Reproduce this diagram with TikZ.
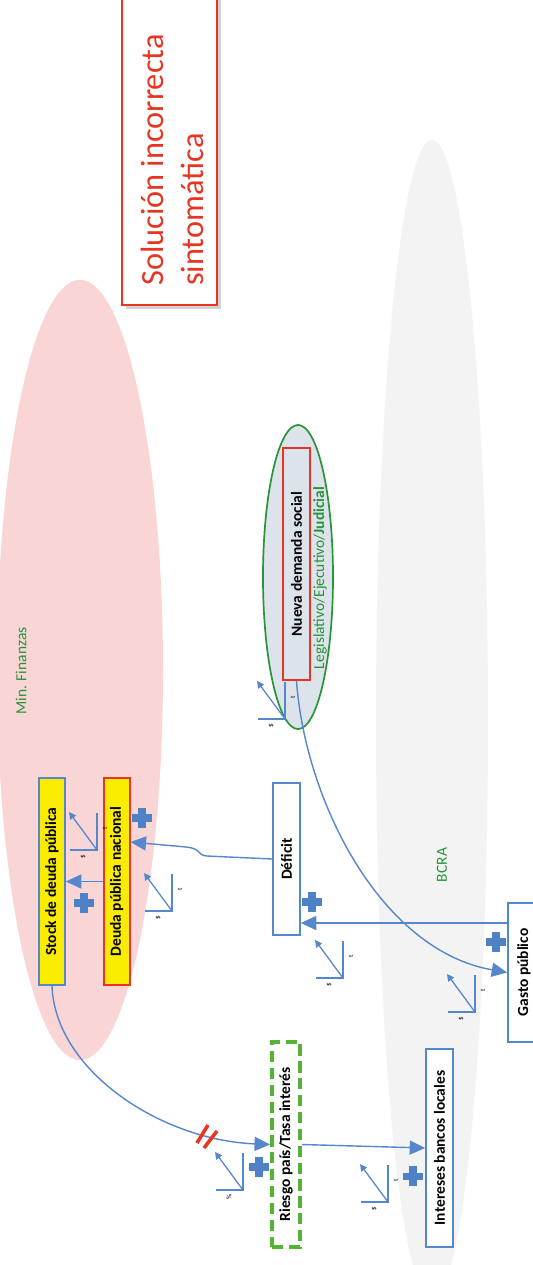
\documentclass[tikz,border=0pt]{standalone}
\usepackage{fontspec}
\setmainfont{Carlito}
\usepackage{graphicx}
\usetikzlibrary{arrows.meta}
\usetikzlibrary{positioning}
\usetikzlibrary{shadows}

\definecolor{flowblue}{RGB}{86,134,204}
\definecolor{plusblue}{RGB}{79,129,199}
\definecolor{finpink}{RGB}{249,213,214}
\definecolor{bcragray}{RGB}{243,243,243}
\definecolor{labelgreen}{RGB}{38,148,56}
\definecolor{dashgreen}{RGB}{84,178,52}
\definecolor{boxyellow}{RGB}{250,236,0}
\definecolor{alertred}{RGB}{232,52,34}
\definecolor{socialfill}{RGB}{221,227,235}

\tikzset{
    box/.style={
        rectangle,
        draw=flowblue,
        line width=1.2pt,
        inner sep=0pt,
        font=\fontsize{11}{13}\selectfont\bfseries
    },
    debtbox/.style={box, fill=boxyellow},
    flow/.style={
        -{Triangle[length=11pt,width=10pt]},
        line width=1pt,
        draw=flowblue
    },
    axisline/.style={line width=0.9pt, draw=flowblue},
    trendline/.style={-{Triangle[length=5pt,width=5pt]}, line width=0.9pt, draw=flowblue},
    ticklabel/.style={font=\fontsize{5}{5}\selectfont, rotate=90, inner sep=0pt},
    areatext/.style={font=\fontsize{11}{13}\selectfont, text=labelgreen, rotate=90},
    trend/.pic={
        \draw[axisline] (0,-37) -- (0,0) -- (-27,0);
        \draw[trendline] (0,0) -- (-28,-38);
        \node[ticklabel] at (8,-22) {t};
        \node[ticklabel] at (-14,7) {#1};
    },
    plussign/.pic={
        \draw[line width=5pt, draw=plusblue] (-10,0) -- (10,0);
        \draw[line width=5pt, draw=plusblue] (0,-10) -- (0,10);
    }
}

\begin{document}
\begin{tikzpicture}[x=0.025cm, y=-0.025cm]
    \useasboundingbox (0,0) rectangle (533,1265);

    % Areas
    \fill[finpink] (80,670) ellipse [x radius=2.075cm, y radius=9.75cm];
    \fill[bcragray] (432,720) ellipse [x radius=1.4cm, y radius=14.5cm];
    \node (min_fin) [areatext] at (21,671) {Min. Finanzas};
    \node (bcra) [areatext] at (442,865) {BCRA};

    % Title
    \node (title_box) [draw=alertred, line width=2pt, fill=white, drop shadow={shadow xshift=2.5pt, shadow yshift=-2.5pt, fill=black!35}, minimum width=2.375cm, minimum height=7.9cm] at (169.5,147) {};
    \node (title) [rotate=90, align=left, text=alertred, font=\fontsize{23}{28.5}\selectfont] at (172,160) {Solución incorrecta\\sintomática};

    % Nueva demanda social
    \filldraw[fill=socialfill, draw=labelgreen, line width=1.2pt] (298,577) ellipse [x radius=0.875cm, y radius=3.8cm];
    \node (nueva) [box, draw=alertred, minimum width=0.675cm, minimum height=5.8cm] at (296.5,564) {\rotatebox{90}{Nueva demanda social}};
    \node (poderes) [areatext] at (320,578) {Legislativo/Ejecutivo/\textbf{Judicial}};

    % Deuda
    \node (stock) [debtbox, minimum width=0.65cm, minimum height=5.175cm] at (52,881.5) {\rotatebox{90}{Stock de deuda pública}};
    \node (deuda) [debtbox, draw=alertred, minimum width=0.65cm, minimum height=5.175cm, right=0.925cm of stock] {\rotatebox{90}{Deuda pública nacional}};

    % Deficit and gasto
    \node (deficit) [box, fill=white, minimum width=0.675cm, minimum height=3.8cm] at (286.5,859) {\rotatebox{90}{Déficit}};
    \node (gasto) [box, fill=white, minimum width=0.8cm, minimum height=3.475cm] at (524,972.5) {\rotatebox{90}{Gasto público}};

    % Tasas
    \node (riesgo) [box, draw=dashgreen, line width=2.8pt, dash pattern=on 8pt off 4pt, minimum width=0.7cm, minimum height=5.125cm] at (286,1144.5) {\rotatebox{90}{Riesgo país/Tasa interés}};
    \node (intereses) [box, fill=white, minimum width=0.675cm, minimum height=4.95cm] at (439.5,1148) {\rotatebox{90}{Intereses bancos locales}};

    % Arrows
    \draw[flow] (deuda.west) -- (stock.east);
    \draw[flow] (deficit.west) -- (207,856) .. controls (196,855) and (203,849) .. (186,847) -- ([shift={(0,-39.5)}]deuda.east);
    \draw[flow] ([shift={(0,-49.5)}]gasto.west) -- ([shift={(0,64)}]deficit.east);
    \draw[flow] (nueva.south) .. controls (305,800) and (380,950) .. (gasto.west);
    \draw[flow] (stock.south) .. controls (55,1070) and (160,1140) .. (riesgo.west);
    \draw[flow] (riesgo.east) -- (intereses.west);

    % Break mark
    \coordinate (cut) at (206,1137);
    \draw[alertred, line width=2.5pt] ([shift={(-9,6)}]cut) -- ([shift={(2,-12)}]cut);
    \draw[alertred, line width=2.5pt] ([shift={(-2,11)}]cut) -- ([shift={(11,-6)}]cut);

    % Trends
    \pic at (97,850) {trend=\$};
    \pic at (172,911) {trend=\$};
    \pic at (343,978) {trend=\$};
    \pic at (475,1012) {trend=\$};
    \pic at (243,1190) {trend=\%};
    \pic at (388,1202) {trend=\$};
    \pic at (285,719) {trend=\$};

    % Signs
    \pic at (142,818) {plussign};
    \pic at (84,903) {plussign};
    \pic at (312,902) {plussign};
    \pic at (496,942) {plussign};
    \pic at (259,1167) {plussign};
    \pic at (413,1176) {plussign};
\end{tikzpicture}
\end{document}
